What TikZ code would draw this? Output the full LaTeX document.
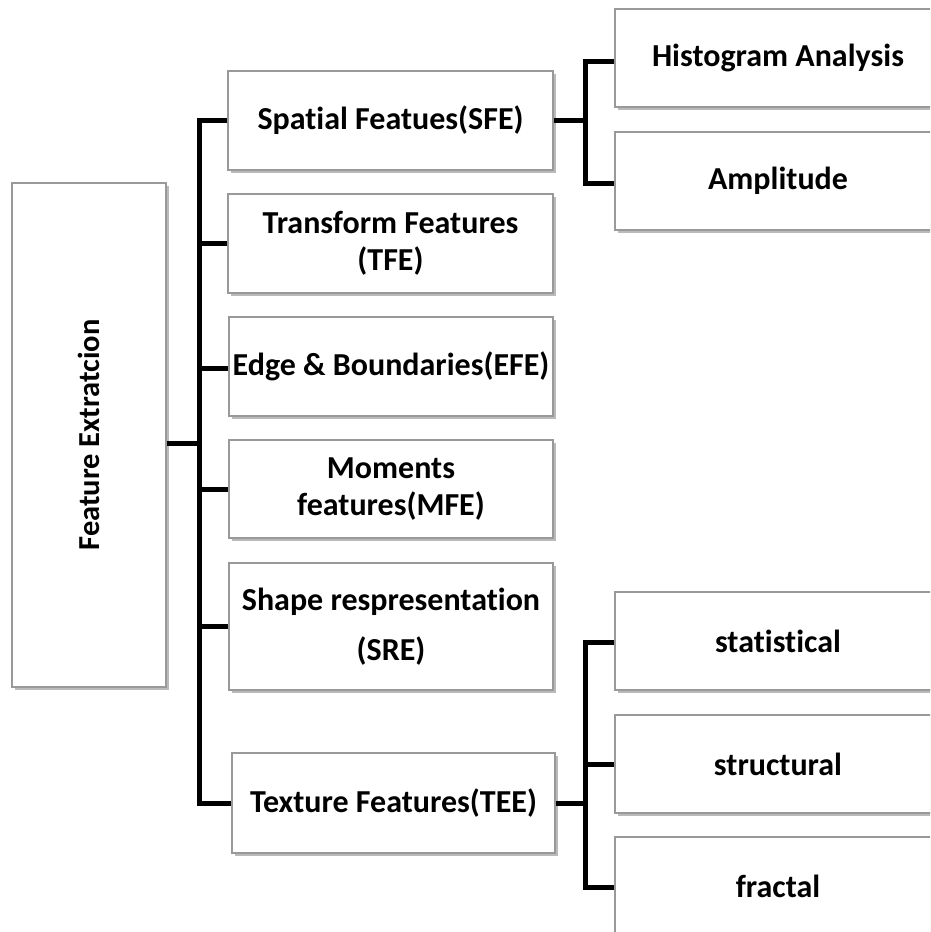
\documentclass[tikz,border=0pt]{standalone}
\usepackage{fontspec}
\setmainfont{Carlito}[Ligatures=CommonOff]
\usetikzlibrary{shadows}
\tikzset{
  box/.style={draw=black!40, line width=1.2pt, fill=white, rectangle,
    minimum width=325pt, minimum height=99pt, inner sep=2pt, align=center,
    font=\fontsize{32}{37}\selectfont\bfseries,
    drop shadow={shadow xshift=2.5pt, shadow yshift=-2.5pt, fill=black!45, opacity=0.6}},
  bus/.style={line width=5pt, draw=black}
}
\begin{document}
\begin{tikzpicture}[x=1pt, y=-1pt]
\useasboundingbox (0,0) rectangle (930,932);
\clip (0,0) rectangle (930,932);

% root box, text runs bottom to top
\node[box, minimum width=154pt, minimum height=504pt, font=\fontsize{30.5}{36}\selectfont\bfseries] (fe) at (89,435)
  {\rotatebox{90}{Feature Extratcion}};

% first level
\node[box] (sp) at (390.5,120.5) {Spatial Featues(SFE)};
\node[box] (tr) at (390.5,243.5) {Transform Features\\(TFE)};
\node[box, minimum width=324pt] (ed) at (391,366.5) {Edge \& Boundaries(EFE)};
\node[box, minimum width=324pt, minimum height=98pt] (mo) at (391,489) {Moments\\features(MFE)};
\node[box, minimum width=324pt, minimum height=127pt] (sh) at (391,626.5) {Shape respresentation\\[13pt](SRE)};
\node[box, minimum width=323pt, minimum height=100pt] (te) at (393.5,803) {Texture Features(TEE)};

% second level
\node[box, minimum width=326pt, minimum height=98pt] (hi) at (778,58) {Histogram Analysis};
\node[box, minimum width=326pt, minimum height=98pt] (am) at (778,181) {Amplitude};
\node[box, minimum width=326pt, minimum height=98pt] (st) at (778,641) {statistical};
\node[box, minimum width=326pt, minimum height=98pt] (su) at (778,764) {structural};
\node[box, minimum width=326pt, minimum height=98pt] (fr) at (778,886) {fractal};

% bus positions
\coordinate (bl) at (199,0);
\coordinate (br) at (585,0);

% connectors from the root
\draw[bus] ([yshift=-8pt]fe.east) -- ([yshift=-8pt]fe.east -| bl);
\draw[bus] (sp.west) -- (sp.west -| bl) |- (te.west);
\draw[bus] (tr.west) -- (tr.west -| bl);
\draw[bus] ([yshift=-1.5pt]ed.west) -- ([yshift=-1.5pt]ed.west -| bl);
\draw[bus] (mo.west) -- (mo.west -| bl);
\draw[bus] (sh.west) -- (sh.west -| bl);

% spatial branch
\draw[bus] (sp.east) -- (sp.east -| br);
\draw[bus] ([yshift=-3pt]hi.west) -- ([yshift=-3pt]hi.west -| br) |- ([yshift=-2pt]am.west);

% texture branch
\draw[bus] (te.east) -- (te.east -| br);
\draw[bus] ([yshift=-1pt]st.west) -- ([yshift=-1pt]st.west -| br) |- ([yshift=-1pt]fr.west);
\draw[bus] (su.west) -- (su.west -| br);
\end{tikzpicture}
\end{document}
